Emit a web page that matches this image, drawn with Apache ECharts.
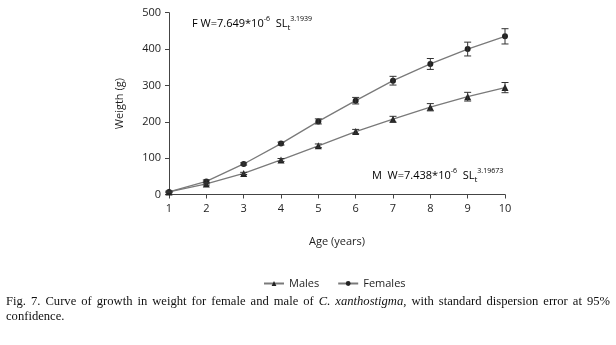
<!DOCTYPE html>
<html>
<head>
<meta charset="utf-8">
<script src="https://cdn.jsdelivr.net/npm/echarts@6/dist/echarts.min.js"></script>
<style>
  html, body { margin: 0; padding: 0; background: #fff; }
  #chart { width: 616px; height: 345px; position: absolute; left: 0; top: 0; }
  #caption {
    position: absolute; left: 6px; top: 294px; width: 604px;
    font-family: "Liberation Serif", "Times New Roman", serif; font-size: 12.6px;
    line-height: 15px; color: #111; text-align: justify; text-align-last: left;
  }
</style>
</head>
<body>
<div id="chart"></div>
<div id="caption">Fig. 7. Curve of growth in weight for female and male of <i>C. xanthostigma</i>, with standard dispersion error at 95% confidence.</div>
<script>
const ages = [1, 2, 3, 4, 5, 6, 7, 8, 9, 10];
const males = [7, 29, 58, 95, 134, 173, 207, 240, 269, 294];
const malesErr = [2, 3, 3, 4, 5, 6, 8, 10, 12, 14];
const females = [7, 36, 84, 140, 201, 258, 313, 359, 400, 435];
const femalesErr = [2, 4, 3, 4, 7, 9, 12, 15, 19, 21];
const yTicks = [0, 100, 200, 300, 400, 500];

const chart = echarts.init(document.getElementById('chart'));
const font = '"Open Sans", "DejaVu Sans", sans-serif';
const ink = '#1e1e1e';
const lineCol = '#7a7a7a';

function errData(vals, errs) {
  return ages.map((a, i) => [a, vals[i] - errs[i], vals[i] + errs[i]]);
}
function errRender(params, api) {
  const x = api.value(0);
  const lo = api.coord([x, api.value(1)]);
  const hi = api.coord([x, api.value(2)]);
  const w = 3.5;
  const st = { stroke: '#333', lineWidth: 1 };
  return {
    type: 'group',
    children: [
      { type: 'line', shape: { x1: lo[0], y1: lo[1], x2: hi[0], y2: hi[1] }, style: st },
      { type: 'line', shape: { x1: lo[0] - w, y1: lo[1], x2: lo[0] + w, y2: lo[1] }, style: st },
      { type: 'line', shape: { x1: hi[0] - w, y1: hi[1], x2: hi[0] + w, y2: hi[1] }, style: st }
    ]
  };
}

const rich = {
  m: { fontFamily: font, fontSize: 11, color: ink, lineHeight: 14, verticalAlign: 'middle' },
  sup: { fontFamily: font, fontSize: 7, color: ink, lineHeight: 17, verticalAlign: 'top' },
  sub: { fontFamily: font, fontSize: 8, color: ink, lineHeight: 17, verticalAlign: 'bottom' }
};

chart.setOption({
  animation: false,
  grid: { left: 169, right: 111, top: 12.7, height: 181.8, containLabel: false },
  legend: {
    data: ['Males', 'Females'],
    left: 258, top: 273,
    itemWidth: 20, itemHeight: 6, itemGap: 18,
    textStyle: { fontFamily: font, fontSize: 11, color: ink }
  },
  xAxis: {
    type: 'value', min: 1, max: 10, interval: 1,
    name: 'Age (years)', nameLocation: 'middle', nameGap: 42,
    nameTextStyle: { fontFamily: font, fontSize: 11, color: ink },
    axisLine: { lineStyle: { color: '#444', width: 1 } },
    axisTick: { show: true, length: 4, lineStyle: { color: '#444' } },
    axisLabel: { fontFamily: font, fontSize: 11, color: ink, margin: 9 },
    splitLine: { show: false }
  },
  yAxis: {
    type: 'value', min: yTicks[0], max: yTicks[yTicks.length - 1], interval: 100,
    name: 'Weigth (g)', nameLocation: 'middle', nameGap: 44,
    nameTextStyle: { fontFamily: font, fontSize: 11, color: ink },
    axisLine: { show: true, lineStyle: { color: '#444', width: 1 } },
    axisTick: { show: true, length: 4, lineStyle: { color: '#444' } },
    axisLabel: { fontFamily: font, fontSize: 11, color: ink, margin: 8 },
    splitLine: { show: false }
  },
  graphic: [
    {
      type: 'text', left: 192, top: 15,
      style: {
        text: '{m|F W=7.649*10}{sup|-6}{m|  SL}{sub|t}{sup|3.1939}',
        rich
      }
    },
    {
      type: 'text', left: 372, top: 167,
      style: {
        text: '{m|M  W=7.438*10}{sup|-6}{m|  SL}{sub|t}{sup|3.19673}',
        rich
      }
    }
  ],
  series: [
    {
      name: 'Males', type: 'line', data: ages.map((a, i) => [a, males[i]]),
      symbol: 'triangle', symbolSize: 7,
      itemStyle: { color: '#222' },
      lineStyle: { color: lineCol, width: 1.3 },
      z: 3
    },
    {
      name: 'Females', type: 'line', data: ages.map((a, i) => [a, females[i]]),
      symbol: 'circle', symbolSize: 6,
      itemStyle: { color: '#222' },
      lineStyle: { color: lineCol, width: 1.3 },
      z: 3
    },
    { type: 'custom', renderItem: errRender, data: errData(males, malesErr), z: 4, silent: true },
    { type: 'custom', renderItem: errRender, data: errData(females, femalesErr), z: 4, silent: true }
  ]
});
</script>
</body>
</html>
